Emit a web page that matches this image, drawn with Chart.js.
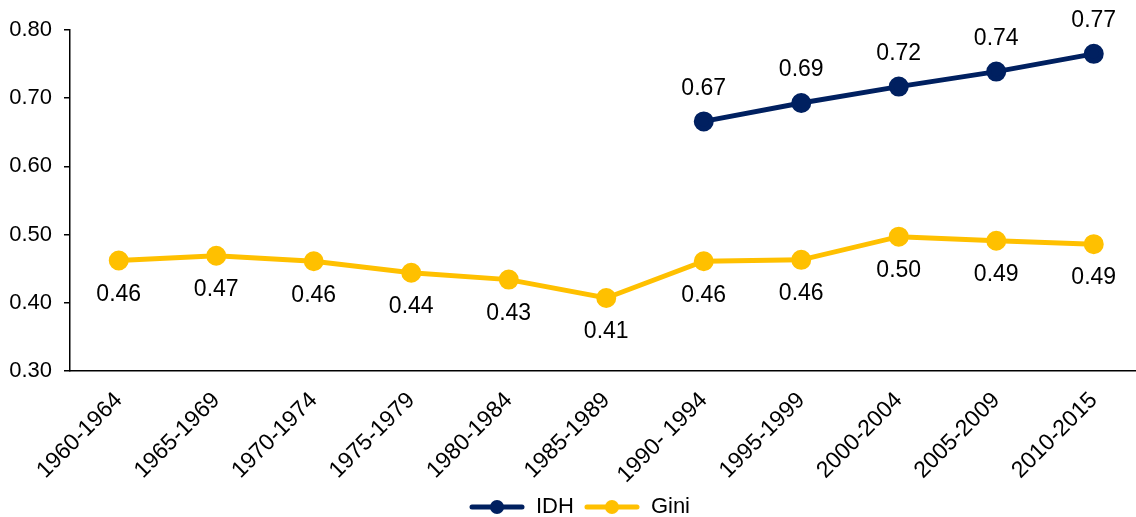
<!DOCTYPE html>
<html>
<head>
<meta charset="utf-8">
<script src="https://cdn.jsdelivr.net/npm/chart.js@4"></script>
<style>
	html, body { margin: 0; padding: 0; background: #fff; overflow: hidden; }
	#wrap { width: 1155px; height: 517px; }
</style>
</head>
<body>
<div id="wrap"><canvas id="chart"></canvas></div>
<script>
var periods = ['1960-1964', '1965-1969', '1970-1974', '1975-1979', '1980-1984', '1985-1989', '1990- 1994', '1995-1999', '2000-2004', '2005-2009', '2010-2015'];
var idhValues = [null, null, null, null, null, null, 0.666, 0.693, 0.717, 0.739, 0.765];
var giniValues = [0.462, 0.469, 0.461, 0.444, 0.434, 0.407, 0.461, 0.463, 0.497, 0.491, 0.486];
var yTicks = [0.30, 0.40, 0.50, 0.60, 0.70, 0.80];

var navy = '#002060';
var gold = '#FFC000';
var fontFamily = '"Liberation Sans", Arial, sans-serif';

// legend marker: line with a dot in the middle
function legendMarker(color) {
	var c = document.createElement('canvas');
	c.width = 56; c.height = 16;
	var ctx = c.getContext('2d');
	ctx.strokeStyle = color;
	ctx.lineWidth = 5;
	ctx.lineCap = 'round';
	ctx.beginPath();
	ctx.moveTo(3, 8); ctx.lineTo(53, 8);
	ctx.stroke();
	ctx.fillStyle = color;
	ctx.beginPath();
	ctx.arc(28, 8, 7, 0, Math.PI * 2);
	ctx.fill();
	return c;
}

// value labels above / below the points
var valueLabels = {
	id: 'valueLabels',
	afterDatasetsDraw: function(chart) {
		var ctx = chart.ctx;
		ctx.save();
		ctx.font = '23px ' + fontFamily;
		ctx.fillStyle = '#000';
		ctx.textAlign = 'center';
		ctx.textBaseline = 'middle';
		chart.data.datasets.forEach(function(ds, i) {
			var meta = chart.getDatasetMeta(i);
			meta.data.forEach(function(pt, j) {
				var v = ds.data[j];
				if (v === null) return;
				var dy = ds.labelPos === 'above' ? -33 : 34;
				ctx.fillText(v.toFixed(2), pt.x, pt.y + dy);
			});
		});
		ctx.restore();
	}
};

var ctx = document.getElementById('chart').getContext('2d');
var chart = new Chart(ctx, {
	type: 'line',
	data: {
		labels: periods,
		datasets: [{
			label: 'IDH',
			data: idhValues,
			borderColor: navy,
			backgroundColor: navy,
			borderWidth: 5,
			pointRadius: 7.5,
			pointHoverRadius: 7.5,
			labelPos: 'above'
		}, {
			label: 'Gini',
			data: giniValues,
			borderColor: gold,
			backgroundColor: gold,
			borderWidth: 5,
			pointRadius: 7.5,
			pointHoverRadius: 7.5,
			labelPos: 'below'
		}]
	},
	options: {
		responsive: true,
		maintainAspectRatio: false,
		animation: false,
		layout: { padding: { top: 30, right: 0, left: 4, bottom: -11 } },
		plugins: {
			tooltip: { enabled: false },
			legend: {
				position: 'bottom',
				labels: {
					color: '#000',
					font: { size: 22, family: fontFamily },
					usePointStyle: true,
					pointStyleWidth: 56,
					boxHeight: 16,
					padding: 10,
					generateLabels: function(chart) {
						return chart.data.datasets.map(function(ds, i) {
							return {
								text: ds.label,
								pointStyle: legendMarker(ds.borderColor),
								fillStyle: ds.borderColor,
								strokeStyle: ds.borderColor,
								lineWidth: 0,
								fontColor: '#000',
								datasetIndex: i
							};
						});
					}
				}
			}
		},
		scales: {
			x: {
				offset: true,
				afterFit: function(axis) { axis.paddingRight = 0; axis.paddingLeft = 0; axis.height = 115; },
				grid: { display: false },
				border: { display: true, color: '#000', width: 1.5 },
				ticks: {
					color: '#000',
					font: { size: 23, family: fontFamily },
					minRotation: 45,
					maxRotation: 45,
					padding: 8
				}
			},
			y: {
				min: 0.30,
				max: 0.80,
				afterBuildTicks: function(axis) {
					axis.ticks = yTicks.map(function(v) { return { value: v }; });
				},
				afterFit: function(axis) { axis.width = 66; },
				grid: { drawOnChartArea: false, color: '#000', tickLength: 6, lineWidth: 1.5 },
				border: { display: true, color: '#000', width: 1.5 },
				ticks: {
					color: '#000',
					font: { size: 22, family: fontFamily },
					padding: 12,
					callback: function(v) { return v.toFixed(2); }
				}
			}
		}
	},
	plugins: [valueLabels]
});
</script>
</body>
</html>
